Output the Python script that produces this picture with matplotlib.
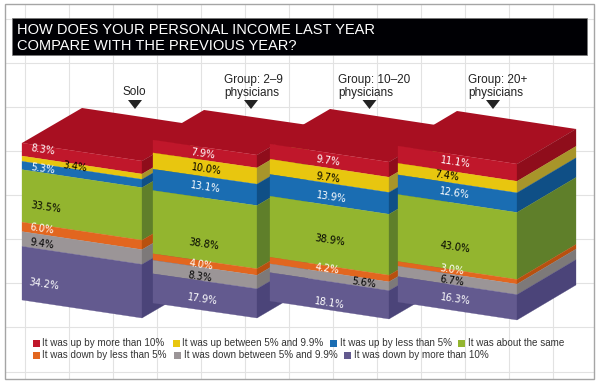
import matplotlib
matplotlib.use("Agg")
import matplotlib.pyplot as plt
from matplotlib.patches import Polygon, Rectangle

groups = ["Solo", "Group: 2–9\nphysicians", "Group: 10–20\nphysicians", "Group: 20+\nphysicians"]
series_names = ["It was up by more than 10%", "It was up between 5% and 9.9%", "It was up by less than 5%",
                "It was about the same", "It was down by less than 5%", "It was down between 5% and 9.9%",
                "It was down by more than 10%"]

up_more = [8.3, 7.9, 9.7, 11.1]
up_mid = [3.4, 10.0, 9.7, 7.4]
up_less = [5.3, 13.1, 13.9, 12.6]
same = [33.5, 38.8, 38.9, 43.0]
down_less = [6.0, 4.0, 4.2, 3.0]
down_mid = [9.4, 8.3, 5.6, 6.7]
down_more = [34.2, 17.9, 18.1, 16.3]
series = [up_more, up_mid, up_less, same, down_less, down_mid, down_more]

# couleurs : face avant, cote
front_colors = ["#c0172b", "#e8c60f", "#1a6db2", "#93b52f", "#e2661f", "#9b9597", "#635a8f"]
side_colors = ["#8f0d1b", "#a8952a", "#0f4f86", "#5f7f2a", "#b8500f", "#7d7979", "#4b4479"]
top_color = "#a80f21"
label_colors = ["white", "black", "white", "black", "white", "black", "white"]

# geometrie des blocs, en pixels de l'image
bar_left = [22, 153, 270, 398]
bar_right = [142, 257, 389, 517]
bar_top = [143, 140, 144, 146]
bar_bottom = [300, 303, 301, 302]
bar_drop = [18, 15, 18, 18]
depth_x = [60, 51, 60, 59]
depth_y = [35, 30, 35, 35]

# position des etiquettes (centre du texte)
label_pos = [
    [(43, 150), (75, 167), (43, 169), (46, 207), (42, 229), (42, 244), (44, 284)],
    [(203, 154), (206, 169), (205, 187), (204, 244), (201, 265), (200, 277), (203, 299)],
    [(328, 161), (328, 178), (331, 197), (330, 240), (327, 269), (364, 283), (329, 303)],
    [(455, 162), (447, 176), (455, 193), (455, 247), (452, 270), (452, 281), (455, 299)],
]

fig = plt.figure(figsize=(6, 3.84), dpi=100)
ax = fig.add_axes([0, 0, 1, 1])
ax.set_xlim(0, 600)
ax.set_ylim(384, 0)
ax.axis("off")

# grille de fond
for x in [24.5, 68.5, 112.5, 156.5, 200.5, 244.5, 288.5, 332.5, 376.5, 420.5, 464.5, 508.5, 552.5]:
    ax.plot([x, x], [5, 378], color="#e2e2e2", lw=0.8, zorder=1)
for y in [19, 63, 107, 151, 195, 239, 283, 327, 372]:
    ax.plot([6, 593], [y, y], color="#e2e2e2", lw=0.8, zorder=1)
ax.add_patch(Rectangle((5, 4), 589, 375, fill=False, ec="#a5a5a5", lw=1.0, zorder=2))

# titre
ax.add_patch(Rectangle((12, 17.5), 575, 37.5, fc="#000004", ec="#777777", lw=0.5, zorder=3))
ax.text(17, 30, "HOW DOES YOUR PERSONAL INCOME LAST YEAR", color="white", fontsize=10.5,
        family="Liberation Sans", va="center", zorder=4)
ax.text(17, 46, "COMPARE WITH THE PREVIOUS YEAR?", color="white", fontsize=10.5,
        family="Liberation Sans", va="center", zorder=4)

# blocs empiles
z = 5
for i in range(len(groups)):
    xl, xr = bar_left[i], bar_right[i]
    top, bottom = bar_top[i], bar_bottom[i]
    drop, dx, dy = bar_drop[i], depth_x[i], depth_y[i]
    total = sum(s[i] for s in series)
    ax.add_patch(Polygon([(xl, top), (xl + dx, top - dy), (xr + dx, top + drop - dy), (xr, top + drop)],
                         fc=top_color, ec="none", zorder=z))
    cum = 0
    for j, s in enumerate(series):
        y0 = top + cum / total * (bottom - top)
        cum += s[i]
        y1 = top + cum / total * (bottom - top)
        ax.add_patch(Polygon([(xl, y0), (xr, y0 + drop), (xr, y1 + drop), (xl, y1)],
                             fc=front_colors[j], ec=front_colors[j], lw=0.2, zorder=z))
        ax.add_patch(Polygon([(xr, y0 + drop), (xr + dx, y0 + drop - dy), (xr + dx, y1 + drop - dy), (xr, y1 + drop)],
                             fc=side_colors[j], ec=side_colors[j], lw=0.2, zorder=z))
        lx, ly = label_pos[i][j]
        ax.text(lx, ly, f"{s[i]:.1f}%", color=label_colors[j], fontsize=7, rotation=-8.5,
                rotation_mode="anchor", ha="center", va="center", family="DejaVu Sans", zorder=20)
    z += 1

# fleches et noms des groupes
arrow_x = [135, 251, 369.5, 493]
name_x = [134, 224, 338, 468]
for i, name in enumerate(groups):
    ax.add_patch(Polygon([(arrow_x[i] - 7, 100), (arrow_x[i] + 7, 100), (arrow_x[i], 109)],
                         fc="#222222", ec="none", zorder=20))
    if i == 0:
        ax.text(name_x[i], 92, name, ha="center", va="center", fontsize=8.5, color="#222222",
                family="Liberation Sans", zorder=20)
    else:
        ax.text(name_x[i], 86.5, name, ha="left", va="center", fontsize=8.5, color="#222222",
                family="Liberation Sans", linespacing=1.1, zorder=20)

# legende
legend_x = [36, 176, 333.5, 461.5, 36, 177, 347]
legend_y = [343, 343, 343, 343, 355, 355, 355]
for name, c, x, y in zip(series_names, front_colors, legend_x, legend_y):
    ax.add_patch(Rectangle((x - 3.5, y - 3.5), 7, 7, fc=c, ec="none", zorder=20))
    ax.text(x + 6.5, y, name, va="center", fontsize=7.1, color="#333333", family="Liberation Sans", zorder=20)

fig.savefig("out.png", dpi=100)
